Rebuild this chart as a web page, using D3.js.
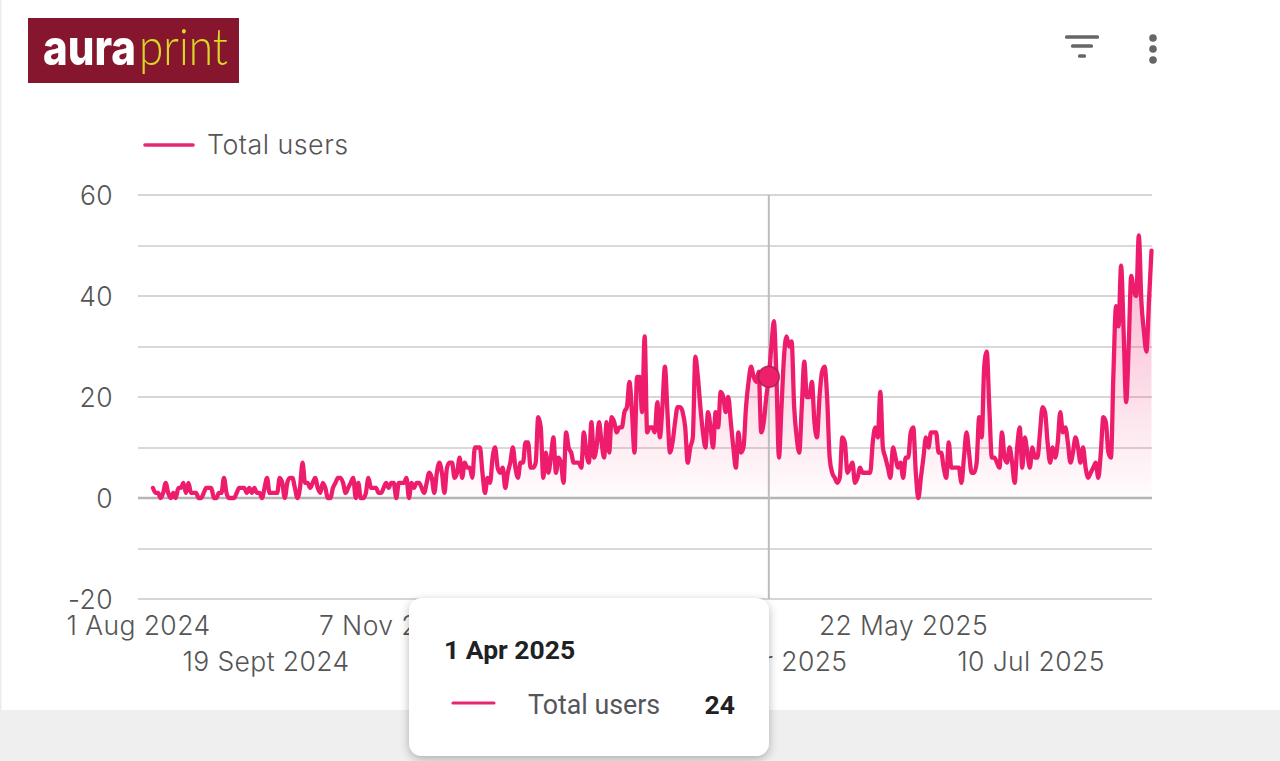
<!DOCTYPE html>
<html><head><meta charset="utf-8">
<script src="https://cdnjs.cloudflare.com/ajax/libs/d3/7.8.5/d3.min.js"></script>
<style>
html,body{margin:0;padding:0;background:#fff;overflow:hidden}
svg{display:block}
.ax text{font-family:"Inter","Open Sans",sans-serif;fill:#555;font-size:26.5px;font-weight:300;letter-spacing:.4px}
</style></head><body><svg id="c" width="1280" height="761"></svg>
<script>
const seriesName = "Total users";
const startDate = "2024-08-01";
const totalUsers = [
2,1,1,0,1,3,1,0,1,0, 2,2,3,1,3,1,1,1,0,0, 1,2,2,2,0,0,1,1,4,1, 0,0,0,1,2,2,2,1,2,1,
2,1,1,0,2,4,1,1,1,1, 4,3,0,3,4,4,2,0,2,7, 3,3,2,3,4,2,1,3,2,0, 0,2,3,4,4,3,1,2,3,4,
0,3,0,0,1,4,2,2,2,1, 1,2,3,2,3,3,0,3,3,3, 4,0,3,2,3,3,2,1,3,5, 4,1,5,7,5,1,6,7,7,4,
5,8,4,7,6,6,4,10,10,10, 5,1,4,3,8,10,6,5,6,2, 5,7,10,6,4,7,7,11,11,6, 6,7,16,14,4,9,5,8,12,5,
8,7,3,13,10,9,7,7,7,6, 13,9,7,15,8,10,15,11,8,15, 9,16,15,13,14,14,17,18,23,17, 9,24,24,17,32,13,14,14,13,19,
12,18,26,17,9,11,15,18,18,17, 14,7,10,12,28,24,18,13,10,17, 14,10,17,14,21,20,17,20,15,10, 6,13,9,10,18,23,26,24,23,25,
13,15,20,24,30,35,24,8,18,28, 32,30,31,18,12,9,18,27,20,20, 23,15,12,20,25,26,20,8,5,4, 3,4,12,11,5,6,7,3,4,6,
5,5,5,5,11,14,12,21,10,8, 6,4,10,8,6,7,4,8,8,13, 14,5,0,4,8,12,10,13,13,13, 9,9,6,4,11,6,6,6,6,3,
8,13,9,5,5,7,16,12,26,29, 18,8,8,7,6,13,8,7,10,7, 3,10,14,6,12,9,6,10,8,8, 13,18,17,11,7,10,8,11,17,13,
14,11,7,9,12,10,7,10,6,4, 5,6,7,4,9,16,15,9,8,25, 38,34,46,33,19,30,44,41,40,52, 39,33,29,39,49
];
const yTicks = [-20,0,20,40,60];
const yMinorTicks = [-10,10,30,50];
const xTickSlots = ["1 Aug 2024","19 Sept 2024","7 Nov 2024","26 Dec 2024","13 Feb 2025","3 Apr 2025","22 May 2025","10 Jul 2025"];
const xLabelsCoveredByTooltip = ["26 Dec 2024","13 Feb 2025"];
const tooltipDate = "1 Apr 2025";
const tooltipValue = 24;
const tooltipDay = "2025-04-01";

const PINK = "#ee1f6c", svg = d3.select("#c");
const parse = d3.utcParse("%Y-%m-%d");
const t0 = parse(startDate);
const dates = totalUsers.map((_, i) => d3.utcDay.offset(t0, i));
const x = d3.scaleUtc().domain([t0, dates[dates.length-1]]).range([153, 1151.5]);
const y = d3.scaleLinear().domain([-20, 60]).range([599, 195]);
const xLab = d3.scalePoint().domain(xTickSlots).range([138, 138 + 127.5*7]);

// page
svg.append("rect").attr("width",1280).attr("height",761).attr("fill","#fff");
svg.append("rect").attr("x",0).attr("y",710).attr("width",1280).attr("height",51).attr("fill","#efefef");
svg.append("rect").attr("x",0).attr("y",0).attr("width",1.5).attr("height",710).attr("fill","#ececec");

const defs = svg.append("defs");
const g = defs.append("linearGradient").attr("id","fill").attr("gradientUnits","userSpaceOnUse")
  .attr("x1",0).attr("x2",0).attr("y1",y(52)).attr("y2",y(0));
g.append("stop").attr("offset",0).attr("stop-color",PINK).attr("stop-opacity",.36);
g.append("stop").attr("offset",1).attr("stop-color",PINK).attr("stop-opacity",.01);
const sh = defs.append("filter").attr("id","sh").attr("x","-10%").attr("y","-15%").attr("width","120%").attr("height","135%");
sh.append("feDropShadow").attr("dx",0).attr("dy",3).attr("stdDeviation",5).attr("flood-color","#000").attr("flood-opacity",.28);
const bl = defs.append("filter").attr("id","bl"); bl.append("feGaussianBlur").attr("stdDeviation",.5);
const bl2 = defs.append("filter").attr("id","bl2"); bl2.append("feGaussianBlur").attr("stdDeviation",.35);

// logo: each word is squeezed horizontally to the width it has in the reference
const logo = svg.append("g").attr("filter","url(#bl2)");
logo.append("rect").attr("x",28).attr("y",18).attr("width",211).attr("height",65).attr("fill","#86172e");
function logoWord(txt, left, width, family, size, weight, colour){
  const t = logo.append("text").attr("font-family",family).attr("font-size",size)
    .attr("font-weight",weight).attr("fill",colour).text(txt);
  const w = t.node().getComputedTextLength();
  t.attr("transform",`translate(${left},65) scale(${width/w},1)`);
}
logoWord("aura",43,93,"Inter,Lato,sans-serif",50,800,"#fff");
logoWord("print",139,89,"Lato,Inter,sans-serif",52,300,"#d7d926");

// icons
const ic = svg.append("g").attr("fill","#666");
[[1065,37,1099],[1071,46,1093],[1078,56,1086]].forEach(([a,b,c])=>
  ic.append("rect").attr("x",a).attr("y",b-1.8).attr("width",c-a).attr("height",3.6).attr("rx",1.5));
[38,49,60].forEach(cy=>ic.append("circle").attr("cx",1153).attr("cy",cy).attr("r",3.8));

// grid and axes
const gridG = svg.append("g");
yMinorTicks.forEach(v=>gridG.append("line").attr("x1",138).attr("x2",1152).attr("y1",y(v)+.5).attr("y2",y(v)+.5).attr("stroke","#cccccc").attr("stroke-width",1.4));
const yAxis = d3.axisLeft(y).tickValues(yTicks).tickSize(0).tickPadding(25).tickFormat(d3.format("d"));
const ya = svg.append("g").attr("class","ax").attr("transform","translate(138,0)").call(yAxis);
ya.select(".domain").remove();
ya.selectAll("text").attr("dy","0.36em").text(d=>d);
yTicks.forEach(v=>gridG.append("line").attr("x1",138).attr("x2",1152).attr("y1",y(v)).attr("y2",y(v))
  .attr("stroke",v===0?"#b5b5b5":"#c8c8c8").attr("stroke-width",v===0?2.6:1.5));

const xa = svg.append("g").attr("class","ax").attr("transform","translate(0,599)")
  .call(d3.axisBottom(xLab).tickSize(0).tickPadding(0));
xa.select(".domain").remove();
xa.selectAll("text").attr("dy",null).attr("y",(d,i)=> i%2 ? 72 : 36);
xa.selectAll(".tick").filter(d=>xLabelsCoveredByTooltip.includes(d)).remove();

// area + line
svg.append("path").datum(totalUsers).attr("fill","url(#fill)")
  .attr("d", d3.area().x((d,i)=>x(dates[i])).y0(y(0)).y1(d=>y(d)).curve(d3.curveMonotoneX));
// crosshair
const cx = x(parse(tooltipDay));
svg.append("line").attr("x1",cx).attr("x2",cx).attr("y1",195).attr("y2",599).attr("stroke","#bdbdbd").attr("stroke-width",2);
svg.append("path").datum(totalUsers).attr("fill","none").attr("stroke",PINK).attr("stroke-width",4.3)
  .attr("stroke-linejoin","round").attr("stroke-linecap","round").attr("filter","url(#bl)")
  .attr("d", d3.line().x((d,i)=>x(dates[i])).y(d=>y(d)).curve(d3.curveMonotoneX));
svg.append("circle").attr("cx",cx).attr("cy",y(tooltipValue)).attr("r",10.5).attr("fill",PINK).attr("stroke","#a81a50").attr("stroke-width",1.5).attr("stroke-opacity",.8);

// legend
svg.append("line").attr("x1",145).attr("x2",193).attr("y1",145).attr("y2",145).attr("stroke","#e22a72").attr("stroke-width",3.6).attr("stroke-linecap","round");
svg.append("text").attr("x",207).attr("y",154).attr("font-family",'"Inter","Open Sans",sans-serif').attr("font-size",26.8).attr("font-weight",300)
  .attr("letter-spacing",".5px").attr("fill","#555").text(seriesName);

// tooltip
const tt = svg.append("g");
tt.append("rect").attr("x",409).attr("y",598).attr("width",360).attr("height",158).attr("rx",13).attr("fill","#fff").attr("filter","url(#sh)");
tt.append("text").attr("x",444).attr("y",659).attr("font-family","Roboto").attr("font-weight",700).attr("font-size",26.5).attr("fill","#202124").text(tooltipDate);
tt.append("line").attr("x1",453).attr("x2",494).attr("y1",703).attr("y2",703).attr("stroke","#e8266f").attr("stroke-width",3.2).attr("stroke-linecap","round");
tt.append("text").attr("x",528).attr("y",714).attr("font-family","Roboto").attr("font-size",26.8).attr("fill","#54565a").text(seriesName);
tt.append("text").attr("x",735).attr("y",714).attr("text-anchor","end").attr("font-family","Roboto").attr("font-weight",700).attr("font-size",26.5).attr("fill","#202124").text(tooltipValue);
</script></body></html>
